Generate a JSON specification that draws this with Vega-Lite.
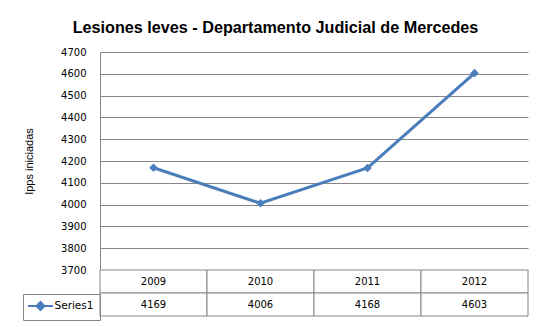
{
  "$schema": "https://vega.github.io/schema/vega-lite/v6.json",
  "background": "white",
  "padding": {"left": 22, "top": 19, "right": 10, "bottom": 5},
  "autosize": {"type": "pad"},
  "bounds": "flush",
  "title": {"text": "Lesiones leves - Departamento Judicial de Mercedes", "fontSize": 16.2, "font": "Liberation Sans", "fontWeight": "bold", "color": "#000000", "anchor": "middle", "offset": 11},
  "data": {"values": [
    {"year": "2009", "value": 4169, "series": "Series1"},
    {"year": "2010", "value": 4006, "series": "Series1"},
    {"year": "2011", "value": 4168, "series": "Series1"},
    {"year": "2012", "value": 4603, "series": "Series1"}
  ]},
  "spacing": 0,
  "config": {
    "view": {"stroke": null},
    "font": "DejaVu Sans",
    "legend": {
      "orient": "none", "legendX": -77, "legendY": 242, "title": null,
      "strokeColor": "#868686", "padding": 6,
      "symbolType": "M-2.5,0H2.5M0,-0.8L0.8,0L0,0.8L-0.8,0Z",
      "symbolSize": 100, "symbolStrokeWidth": 2, "symbolOffset": 5.5,
      "symbolFillColor": "#4a7ebb", "symbolStrokeColor": "#4a7ebb",
      "labelFont": "DejaVu Sans", "labelFontSize": 10.5, "labelColor": "#000000", "labelOffset": 8
    }
  },
  "vconcat": [
    {
      "width": 428,
      "height": 218,
      "mark": {"type": "line", "strokeWidth": 3, "point": {"shape": "diamond", "size": 75, "filled": true}},
      "encoding": {
        "x": {"field": "year", "type": "ordinal", "axis": null, "scale": {"type": "point", "padding": 0.5}},
        "y": {"field": "value", "type": "quantitative",
          "scale": {"domain": [3700, 4700], "nice": false, "zero": false},
          "axis": {"values": [3700, 3800, 3900, 4000, 4100, 4200, 4300, 4400, 4500, 4600, 4700],
            "title": "Ipps iniciadas", "titleFont": "Liberation Sans", "titleFontSize": 11, "titleFontWeight": "normal", "titleColor": "#000000", "titlePadding": 26,
            "gridColor": "#868686", "domainColor": "#868686", "ticks": false, "labelPadding": 14,
            "labelFont": "DejaVu Sans", "labelFontSize": 10, "labelColor": "#000000", "format": "d"}},
        "color": {"field": "series", "type": "nominal", "scale": {"range": ["#4a7ebb"]}}
      }
    },
    {
      "width": 428,
      "height": 46,
      "encoding": {
        "x": {"field": "year", "type": "ordinal", "axis": null, "scale": {"type": "band", "paddingInner": 0, "paddingOuter": 0}}
      },
      "layer": [
        {"mark": {"type": "rect", "fill": "white", "stroke": "#868686", "strokeWidth": 1},
         "encoding": {"y": {"datum": "year", "type": "ordinal", "axis": null, "scale": {"type": "band", "domain": ["year", "value"], "paddingInner": 0, "paddingOuter": 0}}}},
        {"mark": {"type": "rect", "fill": "white", "stroke": "#868686", "strokeWidth": 1},
         "encoding": {"y": {"datum": "value", "type": "ordinal"}}},
        {"mark": {"type": "text", "fontSize": 10, "color": "#000000", "font": "DejaVu Sans"},
         "encoding": {"y": {"datum": "year", "type": "ordinal"}, "text": {"field": "year"}}},
        {"mark": {"type": "text", "fontSize": 10, "color": "#000000", "font": "DejaVu Sans"},
         "encoding": {"y": {"datum": "value", "type": "ordinal"}, "text": {"field": "value", "format": "d"}}}
      ]
    }
  ]
}
